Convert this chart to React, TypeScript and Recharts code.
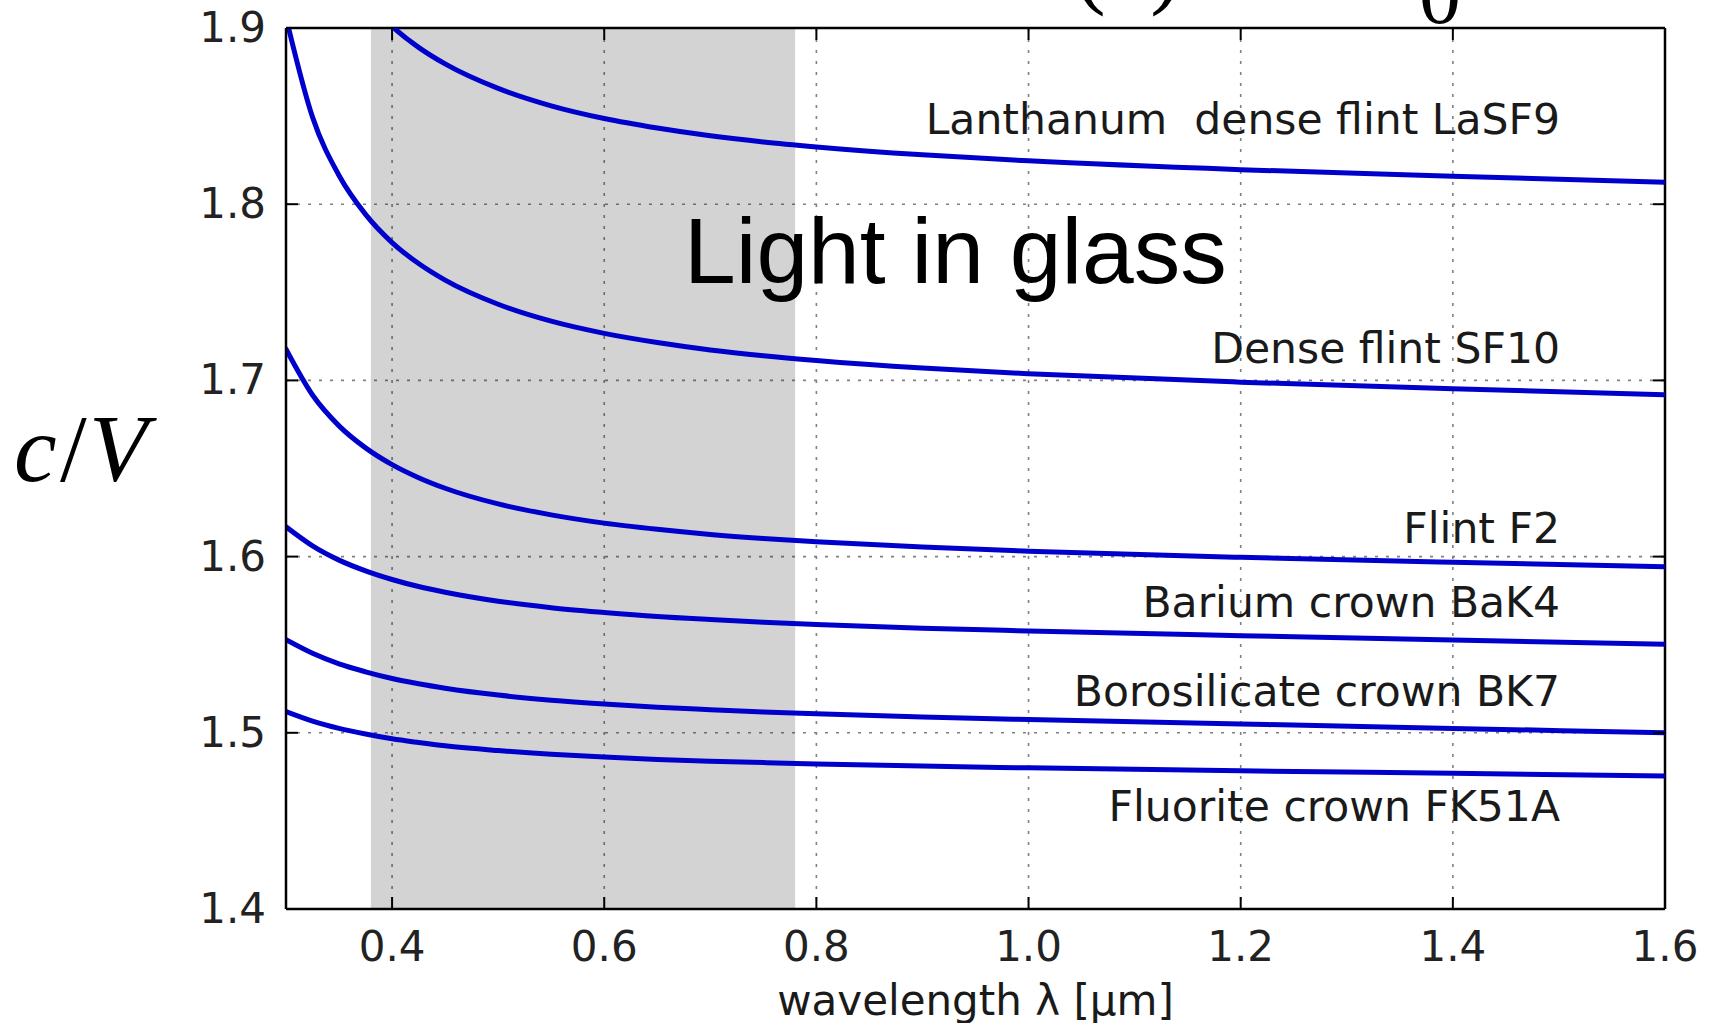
import {
  LineChart,
  Line,
  XAxis,
  YAxis,
  CartesianGrid,
  ReferenceArea,
  ReferenceLine,
} from 'recharts';

// refractive index c/V of six optical glasses against wavelength (µm)
const wavelengths = [
  0.3, 0.325, 0.35, 0.375, 0.4, 0.425, 0.45, 0.5, 0.55, 0.6,
  0.65, 0.7, 0.75, 0.8, 0.9, 1.0, 1.2, 1.4, 1.6,
];
const lasf9 = [
  null, null, null, 1.9163, 1.9009, 1.889, 1.8796, 1.8657, 1.8558, 1.8486,
  1.8432, 1.8388, 1.8353, 1.8325, 1.828, 1.8246, 1.8196, 1.8159, 1.8125,
];
const sf10 = [
  1.906, 1.8494, 1.8163, 1.7942, 1.7782, 1.7663, 1.7569, 1.7432, 1.7336, 1.7267,
  1.7215, 1.7173, 1.714, 1.7113, 1.707, 1.7038, 1.699, 1.6952, 1.6919,
];
const f2 = [
  1.7177, 1.6917, 1.6742, 1.6617, 1.6522, 1.6448, 1.6388, 1.6299, 1.6237, 1.619,
  1.6155, 1.6126, 1.6103, 1.6084, 1.6054, 1.6031, 1.5996, 1.5968, 1.5943,
];
const bak4 = [
  1.6169, 1.6061, 1.598, 1.5919, 1.587, 1.583, 1.5798, 1.5747, 1.571, 1.5683,
  1.566, 1.5643, 1.5628, 1.5615, 1.5594, 1.5578, 1.5551, 1.5526, 1.5503,
];
const bk7 = [
  1.5528, 1.5451, 1.5391, 1.5346, 1.5308, 1.5278, 1.5253, 1.5214, 1.5185, 1.5163,
  1.5145, 1.5131, 1.5118, 1.5108, 1.509, 1.5075, 1.505, 1.5025, 1.5,
];
const fk51a = [
  1.512, 1.5066, 1.5025, 1.4993, 1.4966, 1.4945, 1.4926, 1.4899, 1.4878, 1.4862,
  1.4849, 1.4839, 1.4831, 1.4823, 1.4811, 1.4801, 1.4784, 1.477, 1.4755,
];

const glassNames = [
  'Lanthanum  dense flint LaSF9',
  'Dense flint SF10',
  'Flint F2',
  'Barium crown BaK4',
  'Borosilicate crown BK7',
  'Fluorite crown FK51A',
];
const seriesKeys = ['lasf9', 'sf10', 'f2', 'bak4', 'bk7', 'fk51a'];

const xTicks = [0.4, 0.6, 0.8, 1.0, 1.2, 1.4, 1.6];
const yTicks = [1.4, 1.5, 1.6, 1.7, 1.8, 1.9];
const visibleBand = [0.38, 0.78];

const data = wavelengths.map((w, i) => ({
  w,
  lasf9: lasf9[i],
  sf10: sf10[i],
  f2: f2[i],
  bak4: bak4[i],
  bk7: bk7[i],
  fk51a: fk51a[i],
}));

const W = 1721;
const H = 1023;
const PLOT = { left: 286, top: 28, right: 1665, bottom: 909 };
const Y_AXIS_W = 80;
const X_AXIS_H = 60;
const TICK_LEN = 12;
const TICK_FONT = 'DejaVu Sans, sans-serif';
const SERIF = 'Liberation Serif, serif';
const BLUE = '#0000cc';

// eslint-disable-next-line @typescript-eslint/no-explicit-any
function XTick({ x, y, payload }: any) {
  return (
    <g>
      <line x1={x} x2={x} y1={y} y2={y - TICK_LEN} stroke="#000" strokeWidth={2} />
      <line x1={x} x2={x} y1={PLOT.top} y2={PLOT.top + TICK_LEN} stroke="#000" strokeWidth={2} />
      <text x={x} y={y + 52} textAnchor="middle" fontFamily={TICK_FONT} fontSize={42} fill="#222">
        {Number(payload.value).toFixed(1)}
      </text>
    </g>
  );
}

// eslint-disable-next-line @typescript-eslint/no-explicit-any
function YTick({ x, y, payload }: any) {
  return (
    <g>
      <line x1={x} x2={x + TICK_LEN} y1={y} y2={y} stroke="#000" strokeWidth={2} />
      <line x1={PLOT.right - TICK_LEN} x2={PLOT.right} y1={y} y2={y} stroke="#000" strokeWidth={2} />
      <text x={x - 20} y={y + 14} textAnchor="end" fontFamily={TICK_FONT} fontSize={42} fill="#222">
        {Number(payload.value).toFixed(1)}
      </text>
    </g>
  );
}

const labelBaselines = [134, 363, 543, 617, 706, 821];

export default function App() {
  return (
    <div style={{ position: 'fixed', left: 0, top: 0, width: W, height: H, background: '#fff' }}>
      <LineChart
        width={W}
        height={H}
        data={data}
        margin={{
          top: PLOT.top,
          right: W - PLOT.right,
          left: PLOT.left - Y_AXIS_W,
          bottom: H - PLOT.bottom - X_AXIS_H,
        }}
      >
        <CartesianGrid stroke="#808080" strokeWidth={1.6} strokeDasharray="3 8" />
        <ReferenceArea
          x1={visibleBand[0]}
          x2={visibleBand[1]}
          fill="#000"
          fillOpacity={0.173}
          stroke="none"
        />
        <XAxis
          dataKey="w"
          type="number"
          domain={[0.3, 1.6]}
          ticks={xTicks}
          allowDataOverflow
          height={X_AXIS_H}
          tickSize={0}
          tickMargin={0}
          tickLine={false}
          axisLine={{ stroke: '#000', strokeWidth: 2.5 }}
          tick={<XTick />}
        />
        <YAxis
          type="number"
          domain={[1.4, 1.9]}
          ticks={yTicks}
          allowDataOverflow
          width={Y_AXIS_W}
          tickSize={0}
          tickMargin={0}
          tickLine={false}
          axisLine={{ stroke: '#000', strokeWidth: 2.5 }}
          tick={<YTick />}
        />
        <ReferenceLine y={1.9} stroke="#000" strokeWidth={2.5} />
        <ReferenceLine x={1.6} stroke="#000" strokeWidth={2.5} />

        {seriesKeys.map((key) => (
          <Line
            key={key}
            type="monotone"
            dataKey={key}
            stroke={BLUE}
            strokeWidth={5}
            strokeLinecap="round"
            dot={false}
            activeDot={false}
            isAnimationActive={false}
          />
        ))}
      </LineChart>

      <svg
        width={W}
        height={H}
        style={{ position: 'absolute', left: 0, top: 0, pointerEvents: 'none' }}
      >
        {/* heading line running off the top edge */}
        <text fontFamily={SERIF} fill="#000">
          <tspan x={57} y={0} fontSize={40} textLength={890} lengthAdjust="spacingAndGlyphs">
            The index of refraction as a function of
          </tspan>
          <tspan x={1075} y={-3} fontSize={92}>(λ)</tspan>
          <tspan x={1419} y={23} fontSize={84}>0</tspan>
        </text>

        <text y={481} fontFamily={SERIF} fontSize={96} fill="#000">
          <tspan x={14} fontStyle="italic">c</tspan>
          <tspan x={60}>/</tspan>
          <tspan x={89} fontStyle="italic">V</tspan>
        </text>

        <text x={684} y={283} fontFamily="Liberation Sans, Arial, sans-serif" fontSize={93} fill="#000">
          Light in glass
        </text>

        {glassNames.map((name, i) => (
          <text
            key={name}
            x={1560}
            y={labelBaselines[i]}
            textAnchor="end"
            fontFamily={TICK_FONT}
            fontSize={42.5}
            fill="#1a1a1a"
            style={{ whiteSpace: 'pre' }}
          >
            {name}
          </text>
        ))}

        <text
          x={(PLOT.left + PLOT.right) / 2}
          y={1015}
          textAnchor="middle"
          fontFamily={TICK_FONT}
          fontSize={42}
          fill="#1a1a1a"
        >
          wavelength λ [μm]
        </text>
      </svg>
    </div>
  );
}
